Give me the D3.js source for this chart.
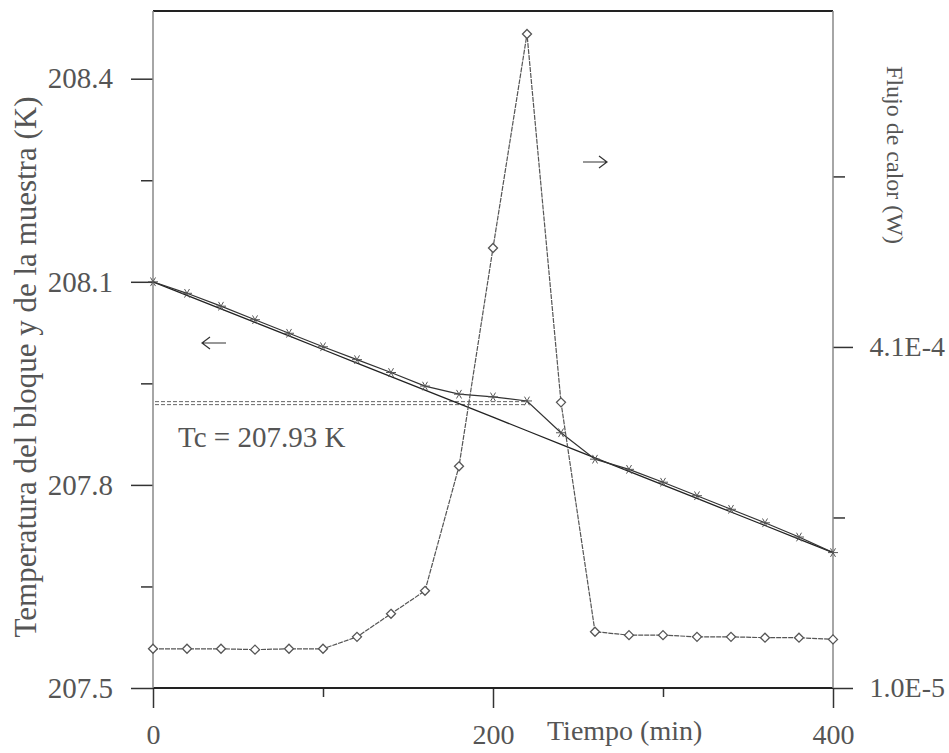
<!DOCTYPE html>
<html><head><meta charset="utf-8">
<script src="https://cdn.jsdelivr.net/npm/d3@7"></script>
<style>
body{margin:0;background:#fff;}
svg text{font-family:"Liberation Serif","DejaVu Serif",serif;fill:#555;}
</style></head>
<body><svg id="c" width="949" height="753"></svg>
<script>
// ---- data ----
const time = [0,20,40,60,80,100,120,140,160,180,200,220,240,260,280,300,320,340,360,380,400];
const blockTemp = [208.10,208.08,208.06,208.04,208.02,208.00,207.98,207.96,207.94,207.92,207.90,207.88,207.86,207.84,207.82,207.80,207.78,207.76,207.74,207.72,207.70];
const sampleTemp = [208.100,208.083,208.064,208.044,208.024,208.004,207.985,207.966,207.946,207.934,207.930,207.924,207.877,207.838,207.823,207.804,207.784,207.764,207.744,207.723,207.700];
const heatFlux = [5.6e-5,5.6e-5,5.6e-5,5.5e-5,5.6e-5,5.6e-5,7.0e-5,9.7e-5,1.24e-4,2.70e-4,5.26e-4,7.77e-4,3.45e-4,7.6e-5,7.2e-5,7.2e-5,7.0e-5,7.0e-5,6.9e-5,6.9e-5,6.7e-5];
const tcValue = 207.923;
const tcEndTime = 220;
const tcLabel = "Tc = 207.93 K";
const xTicksMajor = [0,200,400];
const xTicksMinor = [100,300];
const leftTicksMajor = [207.5,207.8,208.1,208.4];
const leftTicksMinor = [207.65,207.95,208.25];
const rightTicksMajor = [1.0e-5,4.1e-4];
const rightTickLabels = ["1.0E-5","4.1E-4"];
const rightTicksMinor = [2.1e-4,6.1e-4];
const xTitle = "Tiempo (min)";
const yLeftTitle = "Temperatura del bloque y de la muestra (K)";
const yRightTitle = "Flujo de calor (W)";

// ---- layout ----
const L=153,R=833,T=11,B=688;
const svg=d3.select("#c");
const x=d3.scaleLinear([0,400],[L,R]);
const yL=d3.scaleLinear([207.5,208.5],[B,T]);
const yR=d3.scaleLinear([1.0e-5,8.04e-4],[B,T]);

function styleAxis(g){
  g.select(".domain").remove();
  g.selectAll(".tick line").attr("stroke","#333").attr("stroke-width",1.5);
  g.selectAll(".tick text").attr("font-size",29).attr("fill","#555")
    .attr("font-family","Liberation Serif, serif");
}
// left axis
svg.append("g").attr("transform",`translate(${L},0)`)
  .call(d3.axisLeft(yL).tickValues(leftTicksMajor).tickSize(22).tickPadding(18).tickFormat(d3.format(".1f")))
  .call(styleAxis);
svg.append("g").attr("transform",`translate(${L},0)`)
  .call(d3.axisLeft(yL).tickValues(leftTicksMinor).tickSize(12).tickFormat(""))
  .call(styleAxis);
// right axis
svg.append("g").attr("transform",`translate(${R},0)`)
  .call(d3.axisRight(yR).tickValues(rightTicksMajor).tickSize(20).tickPadding(0)
    .tickFormat((d,i)=>rightTickLabels[i]))
  .call(styleAxis)
  .call(g=>g.selectAll(".tick text").attr("text-anchor","end").attr("x",112).attr("font-size",28));
svg.append("g").attr("transform",`translate(${R},0)`)
  .call(d3.axisRight(yR).tickValues(rightTicksMinor).tickSize(12).tickFormat(""))
  .call(styleAxis);
// bottom axis
svg.append("g").attr("transform",`translate(0,${B})`)
  .call(d3.axisBottom(x).tickValues(xTicksMajor).tickSize(20).tickPadding(16).tickFormat(d3.format("d")))
  .call(styleAxis)
  .call(g=>g.selectAll(".tick text").attr("font-size",28));
svg.append("g").attr("transform",`translate(0,${B})`)
  .call(d3.axisBottom(x).tickValues(xTicksMinor).tickSize(9).tickFormat(""))
  .call(styleAxis);

// frame
svg.append("line").attr("x1",L).attr("x2",R).attr("y1",T).attr("y2",T).attr("stroke","#222").attr("stroke-width",2);
svg.append("line").attr("x1",L).attr("x2",R).attr("y1",B).attr("y2",B).attr("stroke","#222").attr("stroke-width",2);
svg.append("line").attr("x1",L).attr("x2",L).attr("y1",T).attr("y2",B).attr("stroke","#888").attr("stroke-width",1.5);
svg.append("line").attr("x1",R).attr("x2",R).attr("y1",T).attr("y2",B).attr("stroke","#888").attr("stroke-width",1.5);

// Tc dashed lines
[0,3].forEach(off=>{
  svg.append("line").attr("x1",L+2).attr("x2",x(tcEndTime))
    .attr("y1",yL(tcValue)+off).attr("y2",yL(tcValue)+off)
    .attr("stroke","#666").attr("stroke-width",1).attr("stroke-dasharray","4,2");
});

// block temperature line
const lineL=d3.line().x((d,i)=>x(time[i])).y(d=>yL(d));
svg.append("path").datum(blockTemp).attr("d",lineL).attr("fill","none").attr("stroke","#222").attr("stroke-width",1.3);
// sample temperature line
svg.append("path").datum(sampleTemp).attr("d",lineL).attr("fill","none").attr("stroke","#333").attr("stroke-width",1.2);
// asterisk markers
const ast = "M-5,0L5,0M-2.5,-4.3L2.5,4.3M-2.5,4.3L2.5,-4.3";
svg.append("g").selectAll("path").data(sampleTemp).join("path")
  .attr("transform",(d,i)=>`translate(${x(time[i])},${yL(d)})`)
  .attr("d",ast).attr("stroke","#555").attr("stroke-width",1).attr("fill","none");

// heat flux line
const lineR=d3.line().x((d,i)=>x(time[i])).y(d=>yR(d));
svg.append("path").datum(heatFlux).attr("d",lineR).attr("fill","none").attr("stroke","#555").attr("stroke-width",1.2).attr("stroke-dasharray","5,1");
const diamond="M0,-4.5L4.5,0L0,4.5L-4.5,0Z";
svg.append("g").selectAll("path").data(heatFlux).join("path")
  .attr("transform",(d,i)=>`translate(${x(time[i])},${yR(d)})`)
  .attr("d",diamond).attr("fill","#fff").attr("stroke","#555").attr("stroke-width",1.3);

// annotations
svg.append("text").attr("x",178).attr("y",447).attr("font-size",29).text(tcLabel);
function arrow(x1,x2,y){
  const dir = x2>x1?-1:1;
  svg.append("path").attr("d",`M${x1},${y}L${x2},${y}M${x2+dir*8},${y-6}L${x2},${y}L${x2+dir*8},${y+6}`)
    .attr("fill","none").attr("stroke","#333").attr("stroke-width",1.2);
}
arrow(226,202,343);
arrow(583,607,162);

// titles
svg.append("text").attr("x",547).attr("y",740).attr("font-size",28).text(xTitle);
svg.append("text").attr("transform","translate(25,367) rotate(-90)").attr("text-anchor","middle")
  .attr("dominant-baseline","central").attr("font-size",31).text(yLeftTitle);
svg.append("text").attr("transform","translate(895,155) rotate(90)").attr("text-anchor","middle")
  .attr("dominant-baseline","central").attr("font-size",24).text(yRightTitle);
</script></body></html>
